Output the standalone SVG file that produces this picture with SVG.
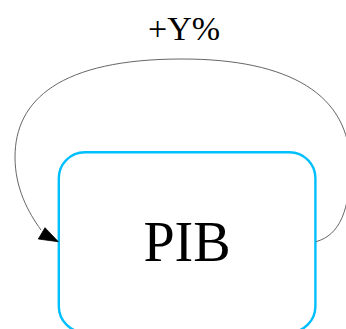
<svg xmlns="http://www.w3.org/2000/svg" width="346" height="329" viewBox="0 0 346 329">
<style>
.node rect{fill:#fff;stroke:#00BFFF;stroke-width:2.4}
.lbl{font-family:"Liberation Serif","Times New Roman",serif;fill:#000;text-anchor:middle}
.edge{fill:none;stroke:#555;stroke-width:0.9}
</style>
<rect width="346" height="329" fill="#fff"/>
<g id="node-PIB" class="node">
<rect x="58.8" y="152.3" width="256.6" height="180" rx="26" ry="26"/>
<text class="lbl" x="187" y="261" font-size="56">PIB</text>
</g>
<g id="connectors">
<path class="edge" d="M316,241.7 C340,235 350,210 350,165 C350,95 290,59 182,59 C60,59 15,100 15,157 C15,188 28,212 41,230"/>
<polygon points="58.3,241.7 38.3,239 45,227.7" fill="#000" stroke="#000" stroke-width="0.8"/>
<text class="lbl" x="184" y="39.5" font-size="34">+Y%</text>
</g>
</svg>
